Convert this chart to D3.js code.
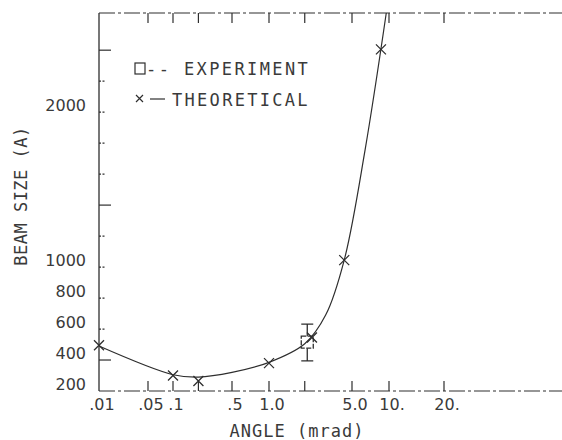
<!DOCTYPE html>
<html>
<head>
<meta charset="utf-8">
<script src="https://cdn.jsdelivr.net/npm/d3@7"></script>
<style>
  body { margin: 0; background: #fff; }
  text { font-family: "DejaVu Sans Mono", monospace; fill: #3a3a3a; }
  text.num { font-family: "DejaVu Sans", sans-serif; }
</style>
</head>
<body>
<svg id="chart" width="562" height="440"></svg>
<script>
const svg = d3.select("#chart");

// axis ticks
const xTickVals = [0.01, 0.05, 0.1, 0.5, 1.0, 5.0, 10, 20];
const xTickLabels = [".01", ".05", ".1", ".5", "1.0", "5.0", "10.", "20."];
const xMinorVals = [0.2, 2.0];
const yTickVals = [200, 400, 600, 800, 1000, 1200, 1400, 1600, 1800, 2000, 2200, 2400];
const yLabelVals = [200, 400, 600, 800, 1000, 2000];
const yMajorVals = [400, 1400, 2400];

// theoretical points (x)
const theoAngle = [0.01, 0.1, 0.2, 1.0, 2.3, 4.3, 8.6];
const theoSize = [495, 300, 265, 380, 545, 1045, 2405];

// experiment (square with error bar)
const expAngle = [2.1];
const expSize = [515];
const expLow = [395];
const expHigh = [632];

// fitted curve
const fitAngle = [0.01, 0.1, 0.2, 0.5, 1.0, 2.0, 3.0, 4.3, 6.4, 9.5];
const fitSize = [490, 305, 290, 320, 385, 505, 690, 1045, 1760, 2640];

// the plotter axis is log within each labelled interval, but intervals differ in length
const x = d3.scaleLinear()
    .domain(xTickVals.map(Math.log10))
    .range([99, 148, 173, 232, 269, 352, 389, 444]);
const X = v => x(Math.log10(v));

const y = d3.scaleLinear().domain([200, 2640]).range([391, 13]);

const ink = "#2e2e2e";
const yTop = y(2640), yBot = y(200), xLeft = X(0.01), xRight = 562;

// frame: solid left axis, dashed top and bottom
svg.append("line").attr("x1", xLeft).attr("x2", xLeft).attr("y1", yTop).attr("y2", yBot)
    .attr("stroke", ink).attr("stroke-width", 1.3);
[yTop, yBot].forEach(yy => {
  svg.append("line").attr("x1", xLeft).attr("x2", xRight).attr("y1", yy).attr("y2", yy)
      .attr("stroke", ink).attr("stroke-width", 1.2).attr("stroke-dasharray", "16,3,3,3");
});

// x ticks, bottom and top
const allX = xTickVals.slice(1).concat(xMinorVals);
svg.selectAll(".xtb").data(allX).enter().append("line")
    .attr("x1", d => X(d)).attr("x2", d => X(d))
    .attr("y1", yBot).attr("y2", yBot - 10)
    .attr("stroke", ink).attr("stroke-width", 1.2);
svg.selectAll(".xtt").data(allX).enter().append("line")
    .attr("x1", d => X(d)).attr("x2", d => X(d))
    .attr("y1", yTop).attr("y2", yTop + 10)
    .attr("stroke", ink).attr("stroke-width", 1.2);

svg.selectAll(".xl").data(xTickVals).enter().append("text")
    .attr("class", "num")
    .attr("x", d => X(d) + 3).attr("y", 410)
    .attr("text-anchor", "middle")
    .attr("font-size", 16)
    .text((d, i) => xTickLabels[i]);

// y ticks
svg.selectAll(".yt").data(yTickVals.slice(1)).enter().append("line")
    .attr("x1", xLeft).attr("x2", d => xLeft + (yMajorVals.includes(d) ? 12 : 7))
    .attr("y1", d => y(d)).attr("y2", d => y(d))
    .attr("stroke", ink).attr("stroke-width", 1.2)
    .attr("stroke-dasharray", d => yMajorVals.includes(d) ? null : "2,1.5");

svg.selectAll(".yl").data(yLabelVals).enter().append("text")
    .attr("class", "num")
    .attr("x", 86).attr("y", d => y(d) - 1)
    .attr("text-anchor", "end")
    .attr("font-size", 16)
    .text(d => d);

// axis titles
svg.append("text").attr("x", 297).attr("y", 437)
    .attr("text-anchor", "middle").attr("font-size", 17).attr("letter-spacing", 1)
    .text("ANGLE (mrad)");
svg.append("text")
    .attr("transform", "translate(27,196) rotate(-90)")
    .attr("text-anchor", "middle").attr("font-size", 17).attr("letter-spacing", 0.5)
    .text("BEAM SIZE (A)");

// fitted curve
const fitPts = fitAngle.map((a, i) => [X(a), y(fitSize[i])]);
svg.append("path")
    .attr("d", d3.line().curve(d3.curveCatmullRom.alpha(0.5))(fitPts))
    .attr("fill", "none").attr("stroke", ink).attr("stroke-width", 1.2);

// theoretical markers
const cross = 5;
theoAngle.forEach((a, i) => {
  const cx = X(a), cy = y(theoSize[i]);
  svg.append("path")
      .attr("d", `M${cx - cross},${cy - cross}L${cx + cross},${cy + cross}M${cx - cross},${cy + cross}L${cx + cross},${cy - cross}`)
      .attr("stroke", ink).attr("stroke-width", 1.3);
});

// experiment: square + error bar
expAngle.forEach((a, i) => {
  const cx = X(a), cy = y(expSize[i]);
  const hi = y(expHigh[i]), lo = y(expLow[i]);
  svg.append("rect").attr("x", cx - 6).attr("y", cy - 6).attr("width", 12).attr("height", 12)
      .attr("fill", "none").attr("stroke", ink).attr("stroke-width", 1.3)
      .attr("stroke-dasharray", "5,1.5");
  svg.append("path")
      .attr("d", `M${cx},${hi}L${cx},${cy - 6}M${cx},${cy + 6}L${cx},${lo}M${cx - 6},${hi}L${cx + 6},${hi}M${cx - 6},${lo}L${cx + 6},${lo}`)
      .attr("stroke", ink).attr("stroke-width", 1.3).attr("fill", "none");
});

// legend
const lg = svg.append("g");
lg.append("rect").attr("x", 135).attr("y", 63).attr("width", 10).attr("height", 11)
    .attr("fill", "none").attr("stroke", ink).attr("stroke-width", 1.2);
lg.append("text").attr("x", 146).attr("y", 75).attr("font-size", 17).attr("letter-spacing", 2.4)
    .text("-- EXPERIMENT");
lg.append("path").attr("d", "M136,95L143,102M136,102L143,95")
    .attr("stroke", ink).attr("stroke-width", 1.2);
lg.append("line").attr("x1", 150).attr("x2", 165).attr("y1", 99).attr("y2", 99)
    .attr("stroke", ink).attr("stroke-width", 1.2);
lg.append("text").attr("x", 172).attr("y", 106).attr("font-size", 17).attr("letter-spacing", 2.3)
    .text("THEORETICAL");
</script>
</body>
</html>
